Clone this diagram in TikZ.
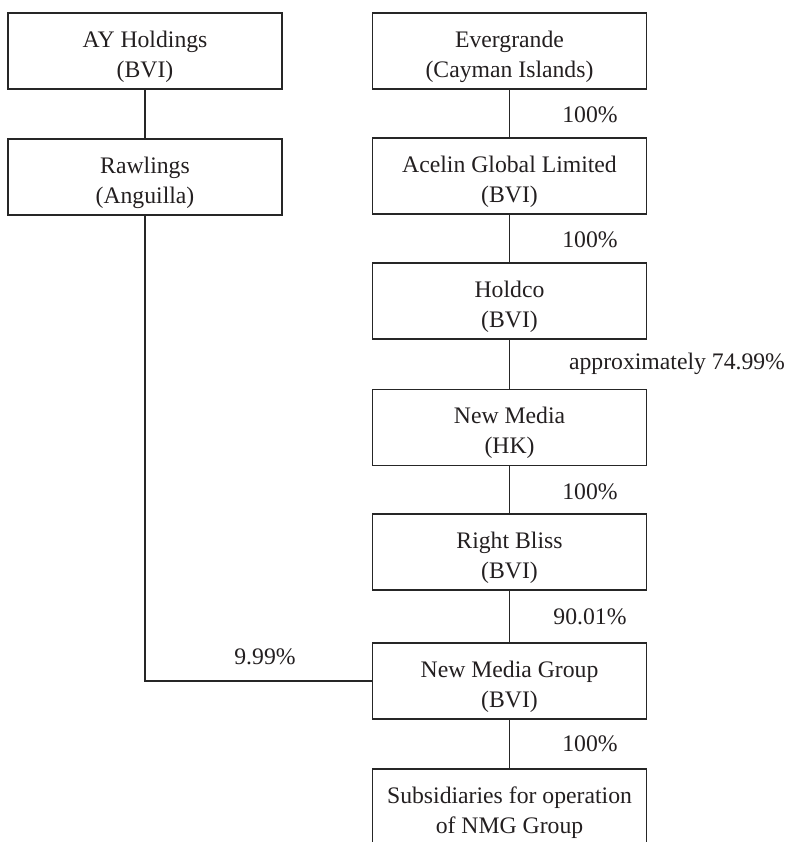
\documentclass[tikz,border=0pt]{standalone}
\usepackage{fontspec}
\setmainfont{Liberation Serif}
\definecolor{linec}{HTML}{262626}
\definecolor{textc}{HTML}{231F20}
\newcommand{\lowr}{\rule{0pt}{28pt}}
\begin{document}
\begin{tikzpicture}[x=1pt,y=-1pt,
  box/.style={draw=linec, line width=1.6pt, minimum width=274pt, minimum height=76pt,
    align=center, inner sep=0pt, font=\fontsize{23.7}{30}\selectfont, text=textc},
  lbl/.style={font=\fontsize{23.7}{30}\selectfont, text=textc, inner sep=0pt},
  conn/.style={draw=linec, line width=1.6pt}]
\useasboundingbox (0,0) rectangle (791,842);
\node[box] (ay) at (145,51) {\lowr AY Holdings\\(BVI)};
\node[box] (raw) at (145,177) {\lowr Rawlings\\(Anguilla)};
\node[box] (ever) at (509.5,51) {\lowr Evergrande\\(Cayman Islands)};
\node[box] (acelin) at (509.5,176) {\lowr Acelin Global Limited\\(BVI)};
\node[box] (holdco) at (509.5,301) {\lowr Holdco\\(BVI)};
\node[box] (nm) at (509.5,427.5) {\lowr New Media\\(HK)};
\node[box] (rb) at (509.5,552) {\lowr Right Bliss\\(BVI)};
\node[box] (nmg) at (509.5,681) {\lowr New Media Group\\(BVI)};
\node[box] (subs) at (509.5,807) {\lowr Subsidiaries for operation\\of NMG Group};
\draw[conn] (ay) -- (raw);
\draw[conn] (ever) -- (acelin);
\draw[conn] (acelin) -- (holdco);
\draw[conn] (holdco) -- (nm);
\draw[conn] (nm) -- (rb);
\draw[conn] (rb) -- (nmg);
\draw[conn] (nmg) -- (subs);
\draw[conn] (raw.south) |- (nmg.west);
\node[lbl] (l1) at (590,115) {100\%};
\node[lbl] (l2) at (590,240) {100\%};
\node[lbl] (l3) at (677,364) {approximately 74.99\%};
\node[lbl] (l4) at (590,492) {100\%};
\node[lbl] (l5) at (590,617) {90.01\%};
\node[lbl] (l6) at (265,657) {9.99\%};
\node[lbl] (l7) at (590,744) {100\%};
\end{tikzpicture}
\end{document}
